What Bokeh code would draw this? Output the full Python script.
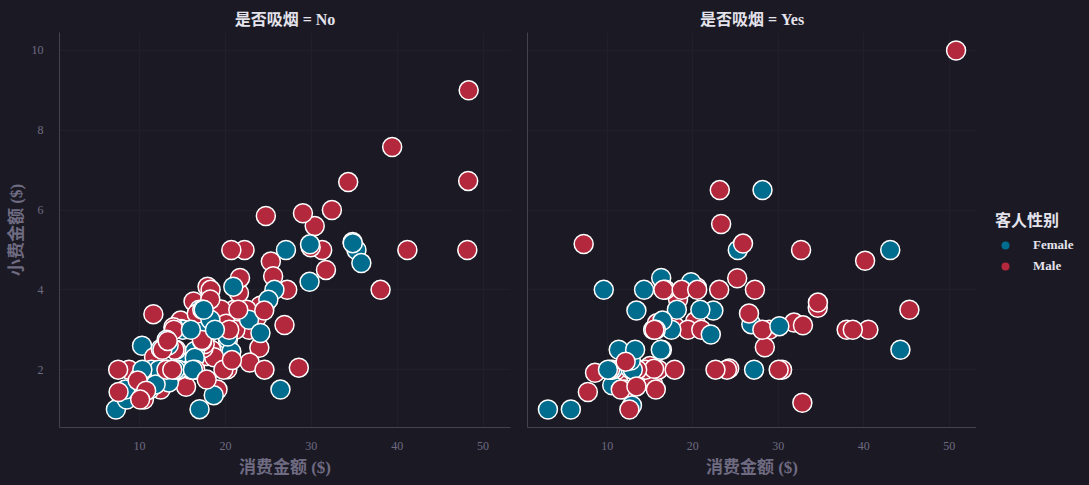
from bokeh.plotting import figure
from bokeh.layouts import row
from bokeh.models import ColumnDataSource, Legend, LegendItem, Range1d, FixedTicker
from bokeh.transform import factor_cmap
from bokeh.embed import file_html
from bokeh.resources import INLINE

# ---------------- data (tips) ----------------
total_bill = [
    16.99, 10.34, 21.01, 23.68, 24.59, 25.29, 8.77, 26.88, 15.04, 14.78,
    10.27, 35.26, 15.42, 18.43, 14.83, 21.58, 10.33, 16.29, 16.97, 20.65,
    17.92, 20.29, 15.77, 39.42, 19.82, 17.81, 13.37, 12.69, 21.7, 19.65,
    9.55, 18.35, 15.06, 20.69, 17.78, 24.06, 16.31, 16.93, 18.69, 31.27,
    16.04, 17.46, 13.94, 9.68, 30.4, 18.29, 22.23, 32.4, 28.55, 18.04,
    12.54, 10.29, 34.81, 9.94, 25.56, 19.49, 38.01, 26.41, 11.24, 48.27,
    20.29, 13.81, 11.02, 18.29, 17.59, 20.08, 16.45, 3.07, 20.23, 15.01,
    12.02, 17.07, 26.86, 25.28, 14.73, 10.51, 17.92, 27.2, 22.76, 17.29,
    19.44, 16.66, 10.07, 32.68, 15.98, 34.83, 13.03, 18.28, 24.71, 21.16,
    28.97, 22.49, 5.75, 16.32, 22.75, 40.17, 27.28, 12.03, 21.01, 12.46,
    11.35, 15.38, 44.3, 22.42, 20.92, 15.36, 20.49, 25.21, 18.24, 14.31,
    14.0, 7.25, 38.07, 23.95, 25.71, 17.31, 29.93, 10.65, 12.43, 24.08,
    11.69, 13.42, 14.26, 15.95, 12.48, 29.8, 8.52, 14.52, 11.38, 22.82,
    19.08, 20.27, 11.17, 12.26, 18.26, 8.51, 10.33, 14.15, 16.0, 13.16,
    17.47, 34.3, 41.19, 27.05, 16.43, 8.35, 18.64, 11.87, 9.78, 7.51,
    14.07, 13.13, 17.26, 24.55, 19.77, 29.85, 48.17, 25.0, 13.39, 16.49,
    21.5, 12.66, 16.21, 13.81, 17.51, 24.52, 20.76, 31.71, 10.59, 10.63,
    50.81, 15.81, 7.25, 31.85, 16.82, 32.9, 17.89, 14.48, 9.6, 34.63,
    34.65, 23.33, 45.35, 23.17, 40.55, 20.69, 20.9, 30.46, 18.15, 23.1,
    15.69, 19.81, 28.44, 15.48, 16.58, 7.56, 10.34, 43.11, 13.0, 13.51,
    18.71, 12.74, 13.0, 16.4, 20.53, 16.47, 26.59, 38.73, 24.27, 12.76,
    30.06, 25.89, 48.33, 13.27, 28.17, 12.9, 28.15, 11.59, 7.74, 30.14,
    12.16, 13.42, 8.58, 15.98, 13.42, 16.27, 10.09, 20.45, 13.28, 22.12,
    24.01, 15.69, 11.61, 10.77, 15.53, 10.07, 12.6, 32.83, 35.83, 29.03,
    27.18, 22.67, 17.82, 18.78,
]
tip = [
    1.01, 1.66, 3.5, 3.31, 3.61, 4.71, 2.0, 3.12, 1.96, 3.23,
    1.71, 5.0, 1.57, 3.0, 3.02, 3.92, 1.67, 3.71, 3.5, 3.35,
    4.08, 2.75, 2.23, 7.58, 3.18, 2.34, 2.0, 2.0, 4.3, 3.0,
    1.45, 2.5, 3.0, 2.45, 3.27, 3.6, 2.0, 3.07, 2.31, 5.0,
    2.24, 2.54, 3.06, 1.32, 5.6, 3.0, 5.0, 6.0, 2.05, 3.0,
    2.5, 2.6, 5.2, 1.56, 4.34, 3.51, 3.0, 1.5, 1.76, 6.73,
    3.21, 2.0, 1.98, 3.76, 2.64, 3.15, 2.47, 1.0, 2.01, 2.09,
    1.97, 3.0, 3.14, 5.0, 2.2, 1.25, 3.08, 4.0, 3.0, 2.71,
    3.0, 3.4, 1.83, 5.0, 2.03, 5.17, 2.0, 4.0, 5.85, 3.0,
    3.0, 3.5, 1.0, 4.3, 3.25, 4.73, 4.0, 1.5, 3.0, 1.5,
    2.5, 3.0, 2.5, 3.48, 4.08, 1.64, 4.06, 4.29, 3.76, 4.0,
    3.0, 1.0, 4.0, 2.55, 4.0, 3.5, 5.07, 1.5, 1.8, 2.92,
    2.31, 1.68, 2.5, 2.0, 2.52, 4.2, 1.48, 2.0, 2.0, 2.18,
    1.5, 2.83, 1.5, 2.0, 3.25, 1.25, 2.0, 2.0, 2.0, 2.75,
    3.5, 6.7, 5.0, 5.0, 2.3, 1.5, 1.36, 1.63, 1.73, 2.0,
    2.5, 2.0, 2.74, 2.0, 2.0, 5.14, 5.0, 3.75, 2.61, 2.0,
    3.5, 2.5, 2.0, 2.0, 3.0, 3.48, 2.24, 4.5, 1.61, 2.0,
    10.0, 3.16, 5.15, 3.18, 4.0, 3.11, 2.0, 2.0, 4.0, 3.55,
    3.68, 5.65, 3.5, 6.5, 3.0, 5.0, 3.5, 2.0, 3.5, 4.0,
    1.5, 4.19, 2.56, 2.02, 4.0, 1.44, 2.0, 5.0, 2.0, 2.0,
    4.0, 2.01, 2.0, 2.5, 4.0, 3.23, 3.41, 3.0, 2.03, 2.23,
    2.0, 5.16, 9.0, 2.5, 6.5, 1.1, 3.0, 1.5, 1.44, 3.09,
    2.2, 3.48, 1.92, 3.0, 1.58, 2.5, 2.0, 3.0, 2.72, 2.88,
    2.0, 3.0, 3.39, 1.47, 3.0, 1.25, 1.0, 1.17, 4.67, 5.92,
    2.0, 2.0, 1.75, 3.0,
]
F, M = "Female", "Male"
sex = [
    F, M, M, M, F, M, M, M, M, M,
    M, F, M, M, F, M, F, M, F, M,
    M, F, F, M, M, M, M, M, M, F,
    M, M, F, F, M, M, M, F, M, M,
    M, M, M, M, M, M, M, M, M, M,
    M, F, F, M, M, M, M, F, M, M,
    M, M, M, M, M, M, F, F, M, M,
    M, F, F, F, F, M, M, M, M, M,
    M, M, F, M, M, F, M, M, M, M,
    M, M, F, F, F, M, M, M, M, M,
    F, F, F, F, F, M, M, M, M, F,
    M, F, M, M, F, F, M, F, F, F,
    M, F, M, M, F, F, M, F, F, M,
    M, F, F, F, F, F, F, F, M, F,
    F, M, M, F, F, F, F, F, M, M,
    M, M, M, M, M, F, M, F, F, M,
    M, M, F, M, F, M, M, M, F, F,
    M, M, M, M, M, M, M, M, F, M,
    M, M, M, M, M, M, F, M, F, M,
    M, F, M, M, M, M, M, F, F, M,
    M, F, F, F, M, F, M, M, M, F,
    M, M, M, F, F, F, M, M, M, F,
    M, F, M, F, M, F, F, M, M, F,
    M, M, M, M, M, M, M, M, F, M,
    F, M, M, F,
]
N, Y = "No", "Yes"
smoker = [
    N, N, N, N, N, N, N, N, N, N,
    N, N, N, N, N, N, N, N, N, N,
    N, N, N, N, N, N, N, N, N, N,
    N, N, N, N, N, N, N, N, N, N,
    N, N, N, N, N, N, N, N, N, N,
    N, N, N, N, N, N, Y, N, Y, N,
    Y, Y, Y, Y, N, N, N, Y, N, Y,
    N, N, Y, Y, N, N, Y, N, N, N,
    Y, N, N, Y, N, N, N, N, N, N,
    Y, N, Y, Y, N, Y, Y, Y, Y, N,
    Y, Y, Y, Y, N, Y, Y, Y, N, Y,
    N, N, N, N, N, N, N, N, N, N,
    N, N, N, N, N, N, N, N, N, N,
    N, N, N, N, N, N, N, N, Y, N,
    N, N, N, N, N, N, N, N, N, N,
    N, N, N, N, N, N, N, N, N, N,
    N, N, N, N, Y, N, N, N, Y, Y,
    Y, Y, Y, Y, Y, Y, Y, Y, Y, Y,
    Y, Y, Y, Y, Y, N, Y, Y, Y, Y,
    Y, Y, Y, Y, Y, N, Y, Y, Y, Y,
    Y, Y, Y, Y, Y, Y, Y, Y, Y, Y,
    Y, Y, N, Y, Y, Y, Y, Y, Y, Y,
    Y, Y, Y, N, Y, Y, Y, N, N, Y,
    Y, Y, N, N, Y, N, Y, Y, N, N,
    Y, Y, N, N,
]
sex_levels = ["Female", "Male"]
smoker_levels = ["No", "Yes"]
x_ticks = [10, 20, 30, 40, 50]
y_ticks = [2, 4, 6, 8, 10]

assert len(total_bill) == len(tip) == len(sex) == len(smoker) == 244
assert smoker.count("No") == 151 and sex.count("Female") == 87

# ---------------- style ----------------
BG = "#1b1a24"
GRID = "#201f2a"
SPINE = "#44424f"
TICK = "#6f6b82"
LABEL = "#6f6b82"
TITLE = "#e4e3ec"
PALETTE = ["#006d8f", "#b3283d"]
FONT = "'Liberation Serif', 'Noto Sans CJK SC', serif"

x_range = (0.68, 53.2)
y_range = (0.55, 10.45)


def make_fig(level, width, left, right, show_y):
    idx = [i for i, s in enumerate(smoker) if s == level]
    src = ColumnDataSource(dict(
        x=[total_bill[i] for i in idx],
        y=[tip[i] for i in idx],
        sex=[sex[i] for i in idx],
    ))
    p = figure(width=width, height=485,
               x_range=Range1d(*x_range), y_range=Range1d(*y_range),
               output_backend="svg", toolbar_location=None,
               min_border_left=left, min_border_right=right,
               min_border_top=32, min_border_bottom=58,
               background_fill_color=BG, border_fill_color=BG,
               outline_line_color=None)
    p.title.text = f"是否吸烟 = {level}"
    p.title.align = "center"
    p.title.text_font = FONT
    p.title.text_font_size = "16px"
    p.title.text_font_style = "bold"
    p.title.text_color = TITLE

    p.scatter("x", "y", source=src, size=19,
              fill_color=factor_cmap("sex", PALETTE, sex_levels),
              line_color="white", line_width=1.5)

    for ax in (p.xaxis, p.yaxis):
        ax.axis_line_color = SPINE
        ax.axis_line_width = 1
        ax.major_tick_line_color = None
        ax.minor_tick_line_color = None
        ax.major_label_text_color = TICK
        ax.major_label_text_font = FONT
        ax.major_label_text_font_size = "12px"
        ax.axis_label_text_color = LABEL
        ax.axis_label_text_font = FONT
        ax.axis_label_text_font_size = "17px"
        ax.axis_label_text_font_style = "bold"
    p.xaxis.ticker = FixedTicker(ticks=x_ticks)
    p.xaxis.axis_label = "消费金额 ($)"
    p.xaxis.major_label_standoff = 8
    p.xaxis.axis_label_standoff = 5
    p.xgrid.ticker = FixedTicker(ticks=x_ticks)
    p.ygrid.ticker = FixedTicker(ticks=y_ticks)
    if show_y:
        p.yaxis.ticker = FixedTicker(ticks=y_ticks)
        p.yaxis.axis_label = "小费金额 ($)"
        p.yaxis.major_label_standoff = 10
        p.yaxis.axis_label_standoff = 3
    else:
        p.yaxis.ticker = FixedTicker(ticks=[])
        p.yaxis.major_label_standoff = 0
    p.xgrid.grid_line_color = GRID
    p.ygrid.grid_line_color = GRID
    return p


p1 = make_fig("No", 518, 59, 8, True)
p2 = make_fig("Yes", 458, 9, 0, False)

# legend panel
pl = figure(width=113, height=485, x_range=Range1d(0, 1), y_range=Range1d(0, 1),
            x_axis_type=None, y_axis_type=None,
            output_backend="svg", toolbar_location=None,
            min_border=0, background_fill_color=BG, border_fill_color=BG,
            outline_line_color=None)
pl.grid.visible = False
nan = float("nan")
leg_src = ColumnDataSource(dict(sex=sex_levels,
                                x=[nan] * len(sex_levels),
                                y=[nan] * len(sex_levels)))
leg_r = pl.scatter("x", "y", source=leg_src, size=19, marker="circle",
                   fill_color=factor_cmap("sex", PALETTE, sex_levels),
                   line_color=None)
items = [LegendItem(label=lvl, renderers=[leg_r], index=i)
         for i, lvl in enumerate(sex_levels)]
legend = Legend(items=items, location=(19, 151),
                title="客人性别",
                title_text_font=FONT, title_text_font_size="16px",
                title_text_font_style="bold", title_text_color=TITLE,
                label_text_font=FONT, label_text_font_size="13px",
                label_text_font_style="bold", label_text_color=TITLE,
                glyph_width=20, glyph_height=20, label_height=20,
                spacing=1, label_standoff=18, padding=6, margin=0,
                title_standoff=4,
                background_fill_alpha=0, border_line_color=None)
pl.add_layout(legend, "center")

layout = row(p1, p2, pl, spacing=0)
layout.styles = {"background-color": BG}

html = file_html(layout, INLINE)
html = html.replace("<body>", f"<body style=\"margin:0;background:{BG};\">")
open("out.html", "w").write(html)
